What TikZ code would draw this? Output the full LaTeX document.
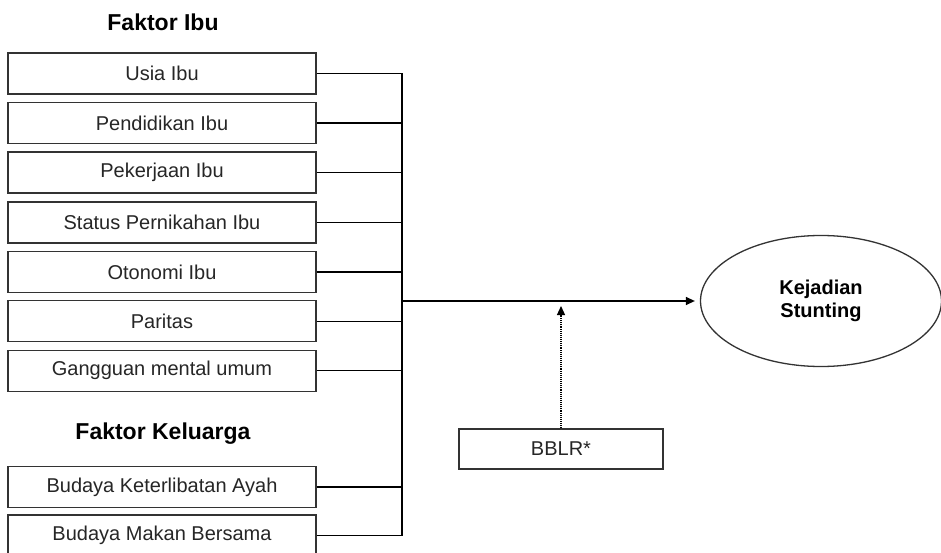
\documentclass[tikz,border=0pt]{standalone}
\usepackage{fontspec}
\setmainfont{Liberation Sans}
\usetikzlibrary{arrows.meta,shapes.geometric}
\begin{document}
\begin{tikzpicture}[x=1pt,y=-1pt,
  factorbox/.style={draw=black!80,line width=1.3pt,rectangle,minimum width=308pt,minimum height=41pt,inner sep=0pt,font=\fontsize{20}{24}\selectfont,text=black!85},
  heading/.style={font=\fontsize{23}{27}\selectfont\bfseries},
  conn/.style={line width=1.3pt,black},
  tip/.style={-{Triangle[length=9pt,width=8pt]}}]
\useasboundingbox (0,0) rectangle (941,553);
\clip (0,0) rectangle (941,553);
\node[heading] (h1) at (163,22) {Faktor Ibu};
\node[factorbox] (b1) at (162,73.5) {Usia Ibu};
\node[factorbox] (b2) at (162,123) {Pendidikan Ibu};
\node[factorbox] (b3) at (162,172.5) {Pekerjaan Ibu};
\node[factorbox] (b4) at (162,222.5) {Status Pernikahan Ibu};
\node[factorbox] (b5) at (162,272) {Otonomi Ibu};
\node[factorbox] (b6) at (162,321.3) {Paritas};
\node[factorbox] (b7) at (162,370.7) {Gangguan mental umum};
\node[heading] (h2) at (163,434) {Faktor Keluarga};
\node[factorbox] (b8) at (162,487) {Budaya Keterlibatan Ayah};
\node[factorbox] (b9) at (162,535.5) {Budaya Makan Bersama};
\node[draw=black!80,line width=1.3pt,ellipse,minimum width=241pt,minimum height=131pt,inner sep=0pt,align=center,font=\fontsize{20}{23}\selectfont\bfseries] (ks) at (821,301) {Kejadian\\Stunting};
\node[factorbox,minimum width=204pt,minimum height=40pt] (bb) at (561,449) {BBLR*};
\coordinate (jt) at (402,73.5);
\coordinate (jb) at (402,535.5);
\coordinate (jm) at (402,301);
\coordinate (mt) at (561,301);
\foreach \n in {b1,b2,b3,b4,b5,b6,b7,b8,b9}{
  \draw[conn] (\n.east) -- (\n.east -| jt);
}
\draw[conn] (jt) -- (jb);
\draw[conn,tip,shorten >=5pt] (jm) -- (ks.west);
\draw[line width=1.1pt,densely dotted,tip,shorten >=5pt] (bb.north) -- (mt);
\end{tikzpicture}
\end{document}
